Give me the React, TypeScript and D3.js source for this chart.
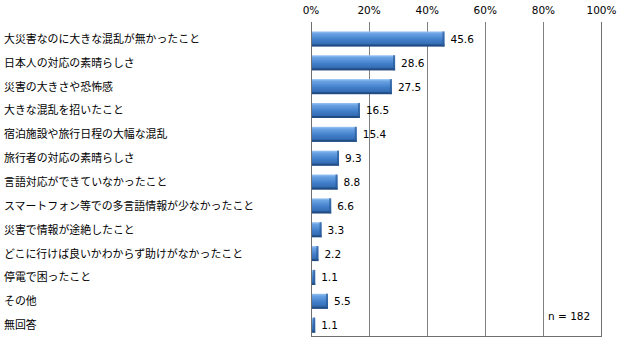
import React from "react";
import * as d3 from "d3";

const categories = [
  "大災害なのに大きな混乱が無かったこと",
  "日本人の対応の素晴らしさ",
  "災害の大きさや恐怖感",
  "大きな混乱を招いたこと",
  "宿泊施設や旅行日程の大幅な混乱",
  "旅行者の対応の素晴らしさ",
  "言語対応ができていなかったこと",
  "スマートフォン等での多言語情報が少なかったこと",
  "災害で情報が途絶したこと",
  "どこに行けば良いかわからず助けがなかったこと",
  "停電で困ったこと",
  "その他",
  "無回答",
];
const values = [45.6, 28.6, 27.5, 16.5, 15.4, 9.3, 8.8, 6.6, 3.3, 2.2, 1.1, 5.5, 1.1];
const ticks = [0, 20, 40, 60, 80, 100];
const note = "n = 182";

const W = 625;
const H = 351;
const left = 311;
const right = 601.5;
const top = 22;
const bottom = 336.5;

export default function App() {
  const x = d3.scaleLinear().domain([0, 100]).range([left, right]);
  const y = d3
    .scaleBand<string>()
    .domain(categories)
    .range([27, 337])
    .paddingInner(0.37)
    .paddingOuter(0.185);
  const bw = y.bandwidth();
  return (
    <svg
      width={W}
      height={H}
      style={{ position: "absolute", left: 0, top: 0, background: "#fff" }}
    >
      <defs>
        <linearGradient id="barg" x1="0" y1="0" x2="0" y2="1">
          <stop offset="0" stopColor="#9cc6f4" />
          <stop offset="0.15" stopColor="#6aa3e4" />
          <stop offset="0.55" stopColor="#427fca" />
          <stop offset="0.85" stopColor="#336cb2" />
          <stop offset="1" stopColor="#234e85" />
        </linearGradient>
      </defs>
      {ticks.map((t) => (
        <g key={t}>
          <line
            x1={x(t)}
            x2={x(t)}
            y1={top}
            y2={bottom}
            stroke={t === 0 || t === 100 ? "#6f6f6f" : "#808080"}
            strokeWidth={1}
            shapeRendering="crispEdges"
          />
          <text
            x={x(t)}
            y={14}
            textAnchor="middle"
            fontFamily="DejaVu Sans, Verdana, sans-serif"
            fontSize={10.5}
            fill="#000"
          >
            {t}%
          </text>
        </g>
      ))}
      <line
        x1={left}
        x2={right}
        y1={bottom}
        y2={bottom}
        stroke="#6f6f6f"
        shapeRendering="crispEdges"
      />
      {categories.map((c, i) => {
        const yy = y(c)!;
        const xe = x(values[i]);
        const w = xe - left;
        return (
          <g key={c}>
            <text
              x={4}
              y={yy + bw / 2 + 4}
              fontFamily="'Noto Sans CJK JP', sans-serif"
              fontSize={10.9}
              fill="#000"
            >
              {c}
            </text>
            <rect x={left + 1} y={yy} width={w} height={bw} fill="url(#barg)" />
            <rect
              x={left + 1}
              y={yy + bw - 2}
              width={w}
              height={2}
              fill="#1f4a80"
              opacity={0.8}
            />
            <rect
              x={xe - 1}
              y={yy}
              width={Math.min(2, w)}
              height={bw}
              fill="#2a5a96"
              opacity={0.7}
            />
            <text
              x={xe + 7}
              y={yy + bw / 2 + 4}
              fontFamily="DejaVu Sans, Verdana, sans-serif"
              fontSize={10.5}
              fill="#000"
            >
              {values[i].toFixed(1)}
            </text>
          </g>
        );
      })}
      <text
        x={548}
        y={320}
        fontFamily="DejaVu Sans, Verdana, sans-serif"
        fontSize={10.5}
        fill="#000"
      >
        {note}
      </text>
    </svg>
  );
}
